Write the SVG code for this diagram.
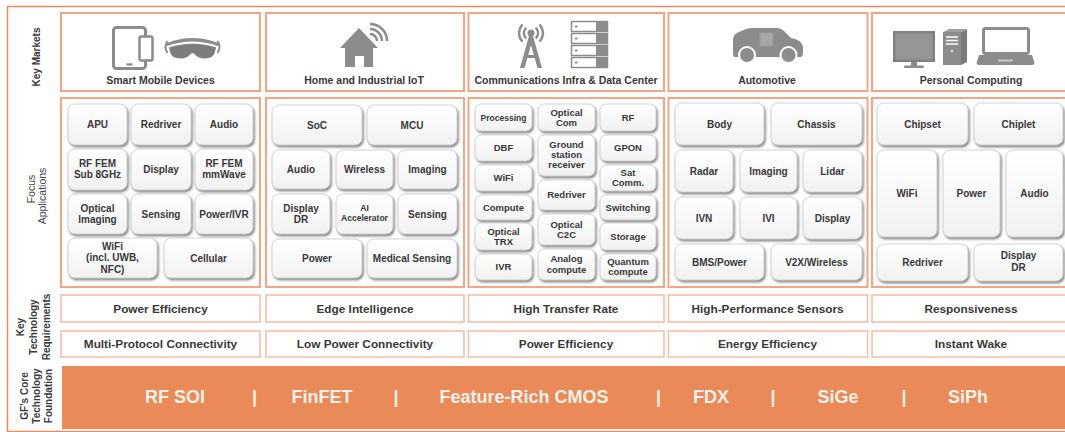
<svg xmlns="http://www.w3.org/2000/svg" width="1065" height="432" viewBox="0 0 1065 432">
<defs>
<linearGradient id="tg" x1="0" y1="0" x2="0" y2="1"><stop offset="0" stop-color="#ffffff"/><stop offset="1" stop-color="#f1f1f1"/></linearGradient>
<filter id="sh" x="-15%" y="-15%" width="135%" height="145%"><feDropShadow dx="1.4" dy="2" stdDeviation="1.2" flood-color="#5e5e5e" flood-opacity="0.75"/></filter>
</defs>
<style>
text{font-family:"Liberation Sans",Arial,sans-serif;fill:#383838;text-anchor:middle}
.frame{fill:none;stroke:#EC8B5E;stroke-width:1.5}
.box{fill:#fff;stroke:#F3A584;stroke-width:2}
.req{fill:#fff;stroke:#F6BBA0;stroke-width:1.5}
.t rect{fill:url(#tg);stroke:#c8c8c8;stroke-width:.8;filter:url(#sh)}
.t text{font-size:10px;font-weight:bold}
.c3 text{font-size:9.5px}
.hd{font-size:10.5px;font-weight:bold}
.rq{font-size:11.8px;font-weight:bold}
.side{font-size:10px;font-weight:bold;fill:#3a3a3a}
.sidel{font-size:10.5px;font-weight:normal;fill:#444}
.bar{font-size:18px;font-weight:bold;fill:#FDF2EA}
.ic{fill:#8c8c8c}
</style>
<rect width="1065" height="432" fill="#fff"/>
<rect class="frame" x="7.5" y="6.5" width="1070" height="425"/>

<g id="side-labels">
<g transform="translate(0,57) rotate(-90)"><text class="side" x="0" y="39.6">Key Markets</text></g>
<g transform="translate(0,189) rotate(-90)"><text class="sidel" x="0" y="35.3">Focus</text></g>
<g transform="translate(0,196) rotate(-90)"><text class="sidel" x="0" y="45.5">Applications</text></g>
<g transform="translate(0,327) rotate(-90)"><text class="side" x="0" y="23.5">Key</text><text class="side" x="0" y="36.5">Technology</text><text class="side" x="0" y="49.5">Requirements</text></g>
<g transform="translate(0,396) rotate(-90)"><text class="side" x="0" y="27.5">GF's Core</text><text class="side" x="0" y="39.5">Technology</text><text class="side" x="0" y="51.5">Foundation</text></g>
</g>

<!-- Key markets -->
<g id="km-mobile">
<rect class="box" x="61" y="13" width="199" height="78"/>
<rect x="113.5" y="27.5" width="32" height="41" rx="3" fill="none" stroke="#8c8c8c" stroke-width="3"/>
<rect class="ic" x="126.5" y="63.3" width="6" height="2.2"/>
<rect x="139.5" y="36.5" width="13" height="24" rx="2" fill="#fff" stroke="#8c8c8c" stroke-width="2.5"/>
<path class="ic" d="M167,43 Q192.5,33 218,43 L218,46 Q192.5,37 167,46 Z"/>
<path fill="#7d7d7d" d="M169,47.5 Q192.5,40 216,47.5 L215,52 Q213,58.5 205,58.5 Q198,58.5 195,54.5 Q192.5,52 190,54.5 Q187,58.5 180,58.5 Q172,58.5 170,52 Z"/>
<path d="M167.5,41 Q163.5,47 167.5,53 M217.5,41 Q221.5,47 217.5,53" fill="none" stroke="#8c8c8c" stroke-width="2"/>
<text class="hd" x="160.5" y="84">Smart Mobile Devices</text>
</g>
<g id="km-iot">
<rect class="box" x="266" y="13" width="198" height="78"/>
<path class="ic" d="M359,28 L378,48 L373,48 L373,67 L364,67 L364,56 L355,56 L355,67 L345,67 L345,48 L340,48 Z"/>
<path d="M370,34 A7,7 0 0 1 377,41 M370,29 A12,12 0 0 1 382,41 M370,24 A17,17 0 0 1 387,41" fill="none" stroke="#8c8c8c" stroke-width="2.5"/>
<text class="hd" x="364" y="84">Home and Industrial IoT</text>
</g>
<g id="km-comms">
<rect class="box" x="468.5" y="13" width="195.5" height="78"/>
<circle class="ic" cx="531" cy="33" r="3.5"/>
<path class="ic" d="M529,36 L533,36 L542,68 L537.5,68 L531,45 L524.5,68 L520,68 Z"/>
<rect class="ic" x="524.5" y="55" width="13" height="3"/>
<path d="M525.6,28.5 A7,7 0 0 0 525.6,37.5 M521.8,25.3 A12,12 0 0 0 521.8,40.7 M536.4,28.5 A7,7 0 0 1 536.4,37.5 M540.2,25.3 A12,12 0 0 1 540.2,40.7" fill="none" stroke="#8c8c8c" stroke-width="2.5" stroke-linecap="round"/>
<g stroke="#8c8c8c" stroke-width="1.5">
<rect x="571.5" y="21.5" width="36" height="10" fill="#fff"/><rect x="571.5" y="33.5" width="36" height="10" fill="#fff"/><rect x="571.5" y="45.5" width="36" height="10" fill="#fff"/><rect x="571.5" y="57.5" width="36" height="10" fill="#fff"/>
</g>
<g class="ic"><rect x="596" y="21.5" width="11.5" height="10"/><rect x="596" y="33.5" width="11.5" height="10"/><rect x="596" y="45.5" width="11.5" height="10"/><rect x="596" y="57.5" width="11.5" height="10"/>
<rect x="575" y="25.5" width="2.5" height="2"/><rect x="575" y="37.5" width="2.5" height="2"/><rect x="575" y="49.5" width="2.5" height="2"/><rect x="575" y="61.5" width="2.5" height="2"/></g>
<text class="hd" x="566" y="84">Communications Infra &amp; Data Center</text>
</g>
<g id="km-auto">
<rect class="box" x="668.5" y="13" width="199" height="78"/>
<path class="ic" d="M735,57 Q733,57 733,53 L733,40 Q733,34 739,32 L746,29 Q749,28 753,28 L777,28 Q781,28 784,31 L791,38 Q802,40 803,47 L803,53 Q803,57 800,57 Z"/>
<rect x="760" y="33" width="13" height="13" fill="#a8a8a8" stroke="#9a9a9a" stroke-width="1"/>
<circle cx="747" cy="55" r="8" fill="#8c8c8c" stroke="#fff" stroke-width="2"/>
<circle cx="788.5" cy="55" r="8" fill="#8c8c8c" stroke="#fff" stroke-width="2"/>
<text class="hd" x="767" y="84">Automotive</text>
</g>
<g id="km-pc">
<rect class="box" x="872" y="13" width="200" height="78"/>
<rect x="893" y="31" width="42" height="31" fill="#808080"/>
<rect x="895.5" y="33.5" width="37" height="26" fill="#959595"/>
<rect class="ic" x="911" y="62" width="6" height="4"/>
<rect class="ic" x="904" y="65.5" width="20" height="2.5" rx="1"/>
<rect class="ic" x="943" y="32" width="18" height="33"/>
<path fill="#7a7a7a" d="M961,32 L967,29 L967,62 L961,65 Z"/>
<path fill="#a0a0a0" d="M943,32 L949,29 L967,29 L961,32 Z"/>
<path d="M946,37 H958 M946,40.5 H958 M946,44 H958" stroke="#fff" stroke-width="1.3"/>
<circle cx="952" cy="51" r="1" fill="#fff"/>
<rect x="983.5" y="28.5" width="45" height="25" rx="2" fill="#fff" stroke="#8c8c8c" stroke-width="3"/>
<path class="ic" d="M979,55 L1032,55 L1034.5,63 Q1034.5,65 1032,65 L979,65 Q976.5,65 976.5,63 Z"/>
<rect x="998" y="59.5" width="15" height="2" fill="#c8c8c8"/>
<text class="hd" x="971" y="84">Personal Computing</text>
</g>

<!-- Focus application containers -->
<g id="fa-boxes">
<rect class="box" x="61" y="98" width="199" height="189"/>
<rect class="box" x="266" y="98" width="198" height="189"/>
<rect class="box" x="468.5" y="98" width="195.5" height="189"/>
<rect class="box" x="668.5" y="98" width="199" height="189"/>
<rect class="box" x="872" y="98" width="200" height="189"/>
</g>

<!-- Column 1 tiles -->
<g id="c1-apu" class="t"><rect x="68" y="104" width="59" height="41" rx="7"/><text x="97.5" y="128">APU</text></g>
<g id="c1-redriver" class="t"><rect x="131" y="104" width="60" height="41" rx="7"/><text x="161" y="128">Redriver</text></g>
<g id="c1-audio" class="t"><rect x="195" y="104" width="58" height="41" rx="7"/><text x="224" y="128">Audio</text></g>
<g id="c1-rffem-sub" class="t"><rect x="68" y="149" width="59" height="41" rx="7"/><text x="97.5" y="167">RF FEM</text><text x="97.5" y="178.3">Sub 8GHz</text></g>
<g id="c1-display" class="t"><rect x="131" y="149" width="60" height="41" rx="7"/><text x="161" y="173">Display</text></g>
<g id="c1-rffem-mm" class="t"><rect x="195" y="149" width="58" height="41" rx="7"/><text x="224" y="167">RF FEM</text><text x="224" y="178.3">mmWave</text></g>
<g id="c1-optical" class="t"><rect x="68" y="194" width="59" height="40" rx="7"/><text x="97.5" y="211.5">Optical</text><text x="97.5" y="222.8">Imaging</text></g>
<g id="c1-sensing" class="t"><rect x="131" y="194" width="60" height="40" rx="7"/><text x="161" y="217.5">Sensing</text></g>
<g id="c1-power" class="t"><rect x="195" y="194" width="58" height="40" rx="7"/><text x="224" y="217.5">Power/IVR</text></g>
<g id="c1-wifi" class="t"><rect x="68" y="238" width="89" height="40" rx="7"/><text x="112.5" y="249.5">WiFi</text><text x="112.5" y="261">(incl. UWB,</text><text x="112.5" y="272.5">NFC)</text></g>
<g id="c1-cellular" class="t"><rect x="164" y="238" width="89" height="40" rx="7"/><text x="208.5" y="261.5">Cellular</text></g>

<!-- Column 2 tiles -->
<g id="c2-soc" class="t"><rect x="272" y="105" width="90" height="40" rx="7"/><text x="317" y="128.5">SoC</text></g>
<g id="c2-mcu" class="t"><rect x="367" y="105" width="90" height="40" rx="7"/><text x="412" y="128.5">MCU</text></g>
<g id="c2-audio" class="t"><rect x="272" y="150" width="58" height="39" rx="7"/><text x="301" y="173">Audio</text></g>
<g id="c2-wireless" class="t"><rect x="336" y="150" width="57" height="39" rx="7"/><text x="364.5" y="173">Wireless</text></g>
<g id="c2-imaging" class="t"><rect x="398" y="150" width="59" height="39" rx="7"/><text x="427.5" y="173">Imaging</text></g>
<g id="c2-display" class="t"><rect x="272" y="194" width="58" height="40" rx="7"/><text x="301" y="212">Display</text><text x="301" y="223.3">DR</text></g>
<g id="c2-ai" class="t"><rect x="336" y="194" width="57" height="40" rx="7"/><text x="364.5" y="211" style="font-size:8.5px">AI</text><text x="364.5" y="221" style="font-size:8.5px">Accelerator</text></g>
<g id="c2-sensing" class="t"><rect x="398" y="194" width="59" height="40" rx="7"/><text x="427.5" y="217.5">Sensing</text></g>
<g id="c2-power" class="t"><rect x="272" y="239" width="90" height="39" rx="7"/><text x="317" y="262">Power</text></g>
<g id="c2-medical" class="t"><rect x="367" y="239" width="90" height="39" rx="7"/><text x="412" y="262">Medical Sensing</text></g>

<!-- Column 3 tiles -->
<g id="c3-processing" class="t c3"><rect x="475" y="104" width="57" height="27" rx="6"/><text x="503.5" y="120.5" style="font-size:8.5px">Processing</text></g>
<g id="c3-dbf" class="t c3"><rect x="475" y="135" width="57" height="26" rx="6"/><text x="503.5" y="151.4">DBF</text></g>
<g id="c3-wifi" class="t c3"><rect x="475" y="165" width="57" height="26" rx="6"/><text x="503.5" y="181.4">WiFi</text></g>
<g id="c3-compute" class="t c3"><rect x="475" y="195" width="57" height="25" rx="6"/><text x="503.5" y="210.9">Compute</text></g>
<g id="c3-optical-trx" class="t c3"><rect x="475" y="223" width="57" height="27" rx="6"/><text x="503.5" y="234.5">Optical</text><text x="503.5" y="244.7">TRX</text></g>
<g id="c3-ivr" class="t c3"><rect x="475" y="254" width="57" height="26" rx="6"/><text x="503.5" y="270.4">IVR</text></g>
<g id="c3-optical-com" class="t c3"><rect x="538" y="104" width="57" height="27" rx="6"/><text x="566.5" y="115.6">Optical</text><text x="566.5" y="125.8">Com</text></g>
<g id="c3-ground" class="t c3"><rect x="538" y="135" width="57" height="41" rx="6"/><text x="566.5" y="148">Ground</text><text x="566.5" y="158.2">station</text><text x="566.5" y="168.4">receiver</text></g>
<g id="c3-redriver" class="t c3"><rect x="538" y="180" width="57" height="30" rx="6"/><text x="566.5" y="198.4">Redriver</text></g>
<g id="c3-optical-c2c" class="t c3"><rect x="538" y="214" width="57" height="31" rx="6"/><text x="566.5" y="227.6">Optical</text><text x="566.5" y="237.8">C2C</text></g>
<g id="c3-analog" class="t c3"><rect x="538" y="249" width="57" height="31" rx="6"/><text x="566.5" y="262.4">Analog</text><text x="566.5" y="272.6">compute</text></g>
<g id="c3-rf" class="t c3"><rect x="600" y="104" width="56" height="27" rx="6"/><text x="628" y="121">RF</text></g>
<g id="c3-gpon" class="t c3"><rect x="600" y="135" width="56" height="26" rx="6"/><text x="628" y="151.4">GPON</text></g>
<g id="c3-sat" class="t c3"><rect x="600" y="165" width="56" height="26" rx="6"/><text x="628" y="176.2">Sat</text><text x="628" y="186.4">Comm.</text></g>
<g id="c3-switching" class="t c3"><rect x="600" y="195" width="56" height="25" rx="6"/><text x="628" y="210.9">Switching</text></g>
<g id="c3-storage" class="t c3"><rect x="600" y="223" width="56" height="27" rx="6"/><text x="628" y="239.9">Storage</text></g>
<g id="c3-quantum" class="t c3"><rect x="600" y="254" width="56" height="26" rx="6"/><text x="628" y="265">Quantum</text><text x="628" y="275">compute</text></g>

<!-- Column 4 tiles -->
<g id="c4-body" class="t"><rect x="675" y="103" width="89" height="42" rx="7"/><text x="719.5" y="127.5">Body</text></g>
<g id="c4-chassis" class="t"><rect x="771" y="103" width="91" height="42" rx="7"/><text x="816.5" y="127.5">Chassis</text></g>
<g id="c4-radar" class="t"><rect x="675" y="150" width="58" height="42" rx="7"/><text x="704" y="174.5">Radar</text></g>
<g id="c4-imaging" class="t"><rect x="740" y="150" width="57" height="42" rx="7"/><text x="768.5" y="174.5">Imaging</text></g>
<g id="c4-lidar" class="t"><rect x="803" y="150" width="59" height="42" rx="7"/><text x="832.5" y="174.5">Lidar</text></g>
<g id="c4-ivn" class="t"><rect x="675" y="197" width="58" height="42" rx="7"/><text x="704" y="221.5">IVN</text></g>
<g id="c4-ivi" class="t"><rect x="740" y="197" width="57" height="42" rx="7"/><text x="768.5" y="221.5">IVI</text></g>
<g id="c4-display" class="t"><rect x="803" y="197" width="59" height="42" rx="7"/><text x="832.5" y="221.5">Display</text></g>
<g id="c4-bms" class="t"><rect x="675" y="244" width="89" height="36" rx="7"/><text x="719.5" y="265.5">BMS/Power</text></g>
<g id="c4-v2x" class="t"><rect x="771" y="244" width="91" height="36" rx="7"/><text x="816.5" y="265.5">V2X/Wireless</text></g>

<!-- Column 5 tiles -->
<g id="c5-chipset" class="t"><rect x="877" y="103" width="91" height="42" rx="7"/><text x="922.5" y="127.5">Chipset</text></g>
<g id="c5-chiplet" class="t"><rect x="974" y="103" width="89" height="42" rx="7"/><text x="1018.5" y="127.5">Chiplet</text></g>
<g id="c5-wifi" class="t"><rect x="877" y="150" width="60" height="87" rx="7"/><text x="907" y="197">WiFi</text></g>
<g id="c5-power" class="t"><rect x="943" y="150" width="57" height="87" rx="7"/><text x="971.5" y="197">Power</text></g>
<g id="c5-audio" class="t"><rect x="1006" y="150" width="57" height="87" rx="7"/><text x="1034.5" y="197">Audio</text></g>
<g id="c5-redriver" class="t"><rect x="877" y="244" width="91" height="37" rx="7"/><text x="922.5" y="266">Redriver</text></g>
<g id="c5-display" class="t"><rect x="974" y="244" width="89" height="37" rx="7"/><text x="1018.5" y="259">Display</text><text x="1018.5" y="270.5">DR</text></g>

<!-- Key technology requirements -->
<g id="req-row1">
<rect class="req" x="61" y="295" width="199" height="27"/><text class="rq" x="160.5" y="312.5">Power Efficiency</text>
<rect class="req" x="266" y="295" width="198" height="27"/><text class="rq" x="365" y="312.5">Edge Intelligence</text>
<rect class="req" x="468.5" y="295" width="195.5" height="27"/><text class="rq" x="566" y="312.5">High Transfer Rate</text>
<rect class="req" x="668.5" y="295" width="199" height="27"/><text class="rq" x="767.5" y="312.5">High-Performance Sensors</text>
<rect class="req" x="872" y="295" width="200" height="27"/><text class="rq" x="971" y="312.5">Responsiveness</text>
</g>
<g id="req-row2">
<rect class="req" x="61" y="331" width="199" height="26"/><text class="rq" x="160.5" y="348">Multi-Protocol Connectivity</text>
<rect class="req" x="266" y="331" width="198" height="26"/><text class="rq" x="365" y="348">Low Power Connectivity</text>
<rect class="req" x="468.5" y="331" width="195.5" height="26"/><text class="rq" x="566" y="348">Power Efficiency</text>
<rect class="req" x="668.5" y="331" width="199" height="26"/><text class="rq" x="767.5" y="348">Energy Efficiency</text>
<rect class="req" x="872" y="331" width="200" height="26"/><text class="rq" x="971" y="348">Instant Wake</text>
</g>

<!-- Core technology foundation -->
<g id="foundation">
<rect x="62" y="366" width="1010" height="63" fill="#E98A58"/>
<text class="bar" x="175" y="403">RF SOI</text>
<text class="bar" x="254.5" y="403">|</text>
<text class="bar" x="322" y="403">FinFET</text>
<text class="bar" x="396" y="403">|</text>
<text class="bar" x="524" y="403">Feature-Rich CMOS</text>
<text class="bar" x="658.5" y="403">|</text>
<text class="bar" x="711" y="403">FDX</text>
<text class="bar" x="773" y="403">|</text>
<text class="bar" x="838" y="403">SiGe</text>
<text class="bar" x="904" y="403">|</text>
<text class="bar" x="968" y="403">SiPh</text>
</g>
<g id="connectors"/>
</svg>
